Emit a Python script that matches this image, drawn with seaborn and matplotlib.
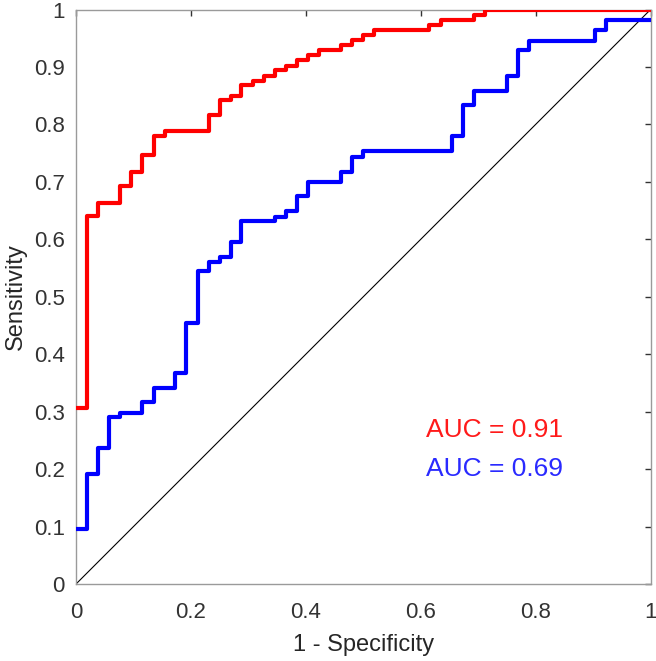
import pandas as pd
import matplotlib.pyplot as plt
import seaborn as sns

# curva ROC vermelha (pontos dos degraus)
fpr_vermelho = [0.0, 0.019, 0.038, 0.077, 0.096, 0.115, 0.135, 0.154, 0.231, 0.25,
                0.269, 0.288, 0.308, 0.327, 0.346, 0.365, 0.385, 0.404, 0.423, 0.462,
                0.481, 0.5, 0.519, 0.615, 0.635, 0.692, 0.712, 1.0]
tpr_vermelho = [0.307, 0.641, 0.664, 0.692, 0.718, 0.746, 0.780, 0.789, 0.817, 0.843,
                0.850, 0.868, 0.875, 0.885, 0.894, 0.902, 0.912, 0.921, 0.929, 0.939,
                0.947, 0.956, 0.965, 0.973, 0.982, 0.991, 1.0, 1.0]

# curva ROC azul
fpr_azul = [0.0, 0.019, 0.038, 0.058, 0.077, 0.115, 0.135, 0.173, 0.192, 0.212,
            0.231, 0.25, 0.269, 0.288, 0.346, 0.365, 0.385, 0.404, 0.462, 0.481,
            0.5, 0.654, 0.673, 0.692, 0.75, 0.769, 0.788, 0.904, 0.923, 1.0]
tpr_azul = [0.096, 0.192, 0.236, 0.290, 0.297, 0.316, 0.341, 0.368, 0.455, 0.544,
            0.560, 0.570, 0.595, 0.631, 0.639, 0.649, 0.676, 0.700, 0.718, 0.744,
            0.753, 0.780, 0.833, 0.859, 0.885, 0.929, 0.946, 0.965, 0.982, 0.982]

diagonal = [0.0, 1.0]
auc_textos = ["AUC = 0.91", "AUC = 0.69"]
auc_y = [0.268, 0.200]

ticks = [0, 0.1, 0.2, 0.3, 0.4, 0.5, 0.6, 0.7, 0.8, 0.9, 1]
x_ticks = [0, 0.2, 0.4, 0.6, 0.8, 1]
y_labels = ["0", "0.1", "0.2", "0.3", "0.4", "0.5", "0.6", "0.7", "0.8", "0.9", "1"]
x_labels = ["0", "0.2", "0.4", "0.6", "0.8", "1"]


def main():
    sns.set_style("white")
    plt.rcParams["font.family"] = ["Liberation Sans", "DejaVu Sans"]

    fig = plt.figure(figsize=(6.56, 6.61), dpi=100)
    ax = fig.add_axes([0.1159, 0.1165, 0.8758, 0.8691])

    df_v = pd.DataFrame({"fpr": fpr_vermelho, "tpr": tpr_vermelho})
    df_a = pd.DataFrame({"fpr": fpr_azul, "tpr": tpr_azul})

    sns.lineplot(data=df_v, x="fpr", y="tpr", color="#ff0000", linewidth=3,
                 drawstyle="steps-post", estimator=None, ax=ax, zorder=3)
    sns.lineplot(data=df_a, x="fpr", y="tpr", color="#0000ff", linewidth=3,
                 drawstyle="steps-post", estimator=None, ax=ax, zorder=3)
    sns.lineplot(x=diagonal, y=diagonal, color="black", linewidth=0.8, ax=ax, zorder=2)

    # textos da AUC
    for texto, y, cor in zip(auc_textos, auc_y, ["#ff1a1a", "#2a2aff"]):
        ax.text(0.61, y, texto, color=cor, fontsize=19, ha="left", va="center")

    ax.set_xlim(0, 1)
    ax.set_ylim(0, 1)
    ax.set_xticks(x_ticks)
    ax.set_xticklabels(x_labels)
    ax.set_yticks(ticks)
    ax.set_yticklabels(y_labels)
    ax.tick_params(axis="both", direction="in", length=4, width=1, colors="#333333",
                   labelsize=16, top=True, right=True)
    ax.tick_params(axis="x", pad=13)
    ax.tick_params(axis="y", pad=8)
    for s in ax.spines.values():
        s.set_color("#9a9a9a")
        s.set_linewidth(1)

    ax.set_xlabel("1 - Specificity", fontsize=17, color="#262626", labelpad=8)
    ax.set_ylabel("Sensitivity", fontsize=17, color="#262626", labelpad=5)

    plt.savefig("out.png", dpi=100, facecolor="white")


main()
